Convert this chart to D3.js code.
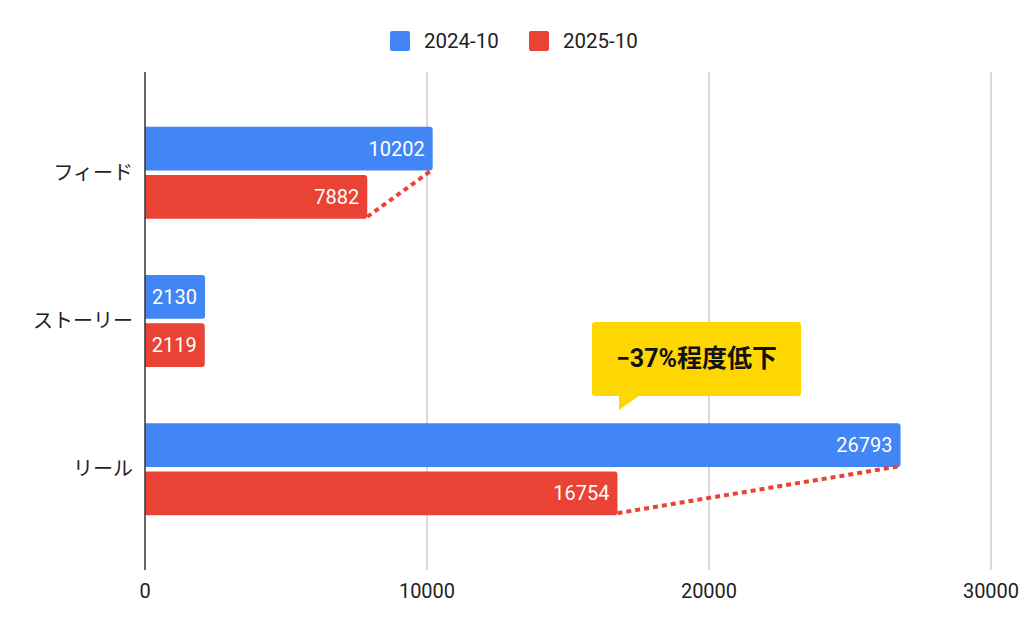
<!DOCTYPE html>
<meta charset="utf-8">
<style>
  body { margin: 0; background: #fff; }
  text { font-family: Roboto, "Noto Sans CJK JP", sans-serif; }
</style>
<body>
<script src="https://d3js.org/d3.v7.min.js"></script>
<script>
  // data
  var categories = ["フィード", "ストーリー", "リール"];
  var seriesNames = ["2024-10", "2025-10"];
  var values2024 = [10202, 2130, 26793];
  var values2025 = [7882, 2119, 16754];
  var xTicks = [0, 10000, 20000, 30000];
  var colors = ["#4285F4", "#EA4335"];
  var calloutText = "\u221237%程度低下";

  var width = 1024, height = 633;
  var margin = {top: 72, right: 33, bottom: 63, left: 145};

  var svg = d3.select("body").append("svg")
      .attr("width", width)
      .attr("height", height);

  var x = d3.scaleLinear()
      .domain([0, 30000])
      .range([margin.left, 991]);

  var y = d3.scaleBand()
      .domain(categories)
      .range([margin.top, height - margin.bottom])
      .paddingInner(0.38)
      .paddingOuter(0.37);

  var ySub = d3.scaleBand()
      .domain([0, 1])
      .range([0, y.bandwidth()])
      .paddingInner(0.09);

  // gridlines
  svg.append("g")
    .selectAll("line")
    .data(xTicks.slice(1))
    .enter().append("line")
      .attr("x1", function(d) { return x(d); })
      .attr("x2", function(d) { return x(d); })
      .attr("y1", margin.top)
      .attr("y2", height - margin.bottom)
      .attr("stroke", "#cccccc")
      .attr("stroke-width", 1.5);

  // x tick labels
  svg.append("g")
    .selectAll("text")
    .data(xTicks)
    .enter().append("text")
      .attr("x", function(d) { return x(d); })
      .attr("y", 598)
      .attr("text-anchor", "middle")
      .attr("font-size", 20)
      .attr("font-family", "'Liberation Sans', Arial, sans-serif")
      .attr("fill", "#222")
      .text(function(d) { return d; });

  // bars
  var rows = categories.map(function(c, i) {
    return {cat: c, vals: [values2024[i], values2025[i]]};
  });

  function barPath(x0, y0, w, h, r) {
    return "M" + x0 + "," + y0 +
      "H" + (x0 + w - r) +
      "Q" + (x0 + w) + "," + y0 + " " + (x0 + w) + "," + (y0 + r) +
      "V" + (y0 + h - r) +
      "Q" + (x0 + w) + "," + (y0 + h) + " " + (x0 + w - r) + "," + (y0 + h) +
      "H" + x0 + "Z";
  }

  var groups = svg.append("g")
    .selectAll("g")
    .data(rows)
    .enter().append("g")
      .attr("transform", function(d) { return "translate(0," + y(d.cat) + ")"; });

  groups.selectAll("path")
    .data(function(d) { return d.vals; })
    .enter().append("path")
      .attr("d", function(d, i) {
        return barPath(x(0), ySub(i), x(d) - x(0), ySub.bandwidth(), 3);
      })
      .attr("fill", function(d, i) { return colors[i]; });

  groups.selectAll("text.val")
    .data(function(d) { return d.vals; })
    .enter().append("text")
      .attr("class", "val")
      .attr("x", function(d) { return x(d) - 8; })
      .attr("y", function(d, i) { return ySub(i) + ySub.bandwidth() / 2; })
      .attr("dy", "0.34em")
      .attr("text-anchor", "end")
      .attr("font-size", 20)
      .attr("fill", "#fff")
      .text(function(d) { return d; });

  // axis line at zero
  svg.append("line")
    .attr("x1", x(0)).attr("x2", x(0))
    .attr("y1", margin.top).attr("y2", height - margin.bottom)
    .attr("stroke", "#333")
    .attr("stroke-width", 1.5);

  // category labels
  svg.append("g")
    .selectAll("text")
    .data(categories)
    .enter().append("text")
      .attr("x", 133)
      .attr("y", function(d) { return y(d) + y.bandwidth() / 2; })
      .attr("dy", "0.36em")
      .attr("text-anchor", "end")
      .attr("font-size", 20)
      .attr("font-family", "'Noto Sans CJK JP', sans-serif")
      .attr("fill", "#222")
      .text(function(d) { return d; });

  // dotted connector lines (feed and reels)
  [0, 2].forEach(function(i) {
    var c = categories[i];
    svg.append("line")
      .attr("x1", x(values2025[i]))
      .attr("y1", y(c) + ySub(1) + ySub.bandwidth() - 2)
      .attr("x2", x(values2024[i]))
      .attr("y2", y(c) + ySub(0) + ySub.bandwidth() - 1)
      .attr("stroke", "#EA4335")
      .attr("stroke-width", 4)
      .attr("stroke-dasharray", "5,4");
  });

  // callout
  var cx = 592, cy = 322, cw = 209, ch = 74;
  var callout = svg.append("g");
  callout.append("rect")
    .attr("x", cx).attr("y", cy)
    .attr("width", cw).attr("height", ch)
    .attr("rx", 3)
    .attr("fill", "#FFD700");
  callout.append("path")
    .attr("d", "M" + (cx + 27) + "," + (cy + ch - 1) + "V" + (cy + ch + 14) + "L" + (cx + 48) + "," + (cy + ch - 1) + "Z")
    .attr("fill", "#FFD700");
  callout.append("text")
    .attr("x", cx + cw / 2)
    .attr("y", cy + ch / 2 - 1)
    .attr("dy", "0.36em")
    .attr("text-anchor", "middle")
    .attr("font-size", 25)
    .attr("font-weight", "bold")
    .attr("font-family", "'Noto Sans CJK JP', sans-serif")
    .attr("fill", "#111")
    .text(calloutText);

  // legend
  var legendX = [390, 529];
  var legend = svg.append("g")
    .selectAll("g")
    .data(seriesNames)
    .enter().append("g")
      .attr("transform", function(d, i) { return "translate(" + legendX[i] + ",31)"; });
  legend.append("rect")
    .attr("width", 20).attr("height", 20)
    .attr("rx", 2)
    .attr("fill", function(d, i) { return colors[i]; });
  legend.append("text")
    .attr("x", 34)
    .attr("y", 10)
    .attr("dy", "0.36em")
    .attr("font-size", 20.5)
    .attr("font-family", "'Liberation Sans', Arial, sans-serif")
    .attr("fill", "#222")
    .text(function(d) { return d; });
</script>
</body>
